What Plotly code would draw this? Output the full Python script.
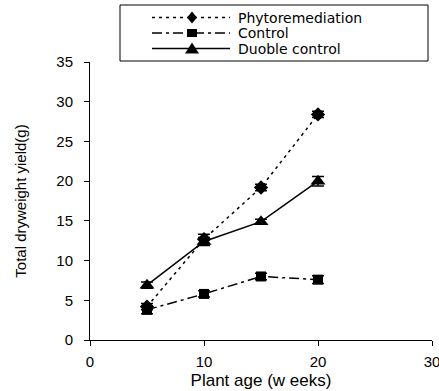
import plotly.graph_objects as go

weeks = [5, 10, 15, 20]
phyto = [4.2, 12.7, 19.2, 28.4]
phyto_err = [0.4, 0.6, 0.4, 0.4]
control = [3.8, 5.8, 8.0, 7.6]
control_err = [0.5, 0.4, 0.4, 0.5]
double = [6.9, 12.4, 14.9, 20.0]
double_err = [0.4, 0.5, 0.3, 0.6]
names = ["Phytoremediation", "Control", "Duoble control"]

# plot area in pixels (for placing the hand-made legend)
W, H = 439, 391
L, R, T, B = 90, 7, 62, 51
PW, PH = W - L - R, H - T - B


def px(x):
    return (x - L) / PW


def py(y):
    return (H - B - y) / PH


styles = [
    dict(dash="3px,4px", symbol="diamond", size=11,
         path="M0,6 L5,0 L0,-6 L-5,0 Z"),
    dict(dash="10px,4px,3px,4px", symbol="square", size=10,
         path="M-5,-4 L5,-4 L5,4 L-5,4 Z"),
    dict(dash="solid", symbol="triangle-up", size=13,
         path="M-7,-5 L7,-5 L0,6 Z"),
]
values = [phyto, control, double]
errors = [phyto_err, control_err, double_err]

fig = go.Figure()
for name, y, e, st in zip(names, values, errors, styles):
    fig.add_trace(go.Scatter(
        x=weeks, y=y, name=name, mode="lines+markers", showlegend=False,
        line=dict(color="black", width=1.5, dash=st["dash"]),
        marker=dict(symbol=st["symbol"], size=st["size"], color="black"),
        error_y=dict(type="data", array=e, visible=True, color="black",
                     thickness=1.5, width=6),
    ))

# hand-made compact legend
shapes = [dict(type="rect", xref="paper", yref="paper",
               x0=px(120), x1=px(428), y0=py(61), y1=py(5),
               line=dict(color="black", width=1), fillcolor="white", layer="above")]
annotations = []
rows = [17.5, 33, 48.5]
for name, st, ry in zip(names, styles, rows):
    shapes.append(dict(type="line", xref="paper", yref="paper",
                       x0=px(152), x1=px(230), y0=py(ry), y1=py(ry),
                       line=dict(color="black", width=1.5, dash=st["dash"]), layer="above"))
    shapes.append(dict(type="path", xref="paper", yref="paper",
                       xsizemode="pixel", ysizemode="pixel",
                       xanchor=px(192), yanchor=py(ry), path=st["path"],
                       fillcolor="black", line=dict(color="black", width=0), layer="above"))
    annotations.append(dict(text=name, xref="paper", yref="paper", x=px(236), y=py(ry),
                            xanchor="left", yanchor="middle", showarrow=False,
                            font=dict(size=14, family="DejaVu Sans, sans-serif", color="black")))

font = "Liberation Sans, Arial, sans-serif"
fig.update_layout(
    width=W, height=H,
    margin=dict(l=L, r=R, t=T, b=B, autoexpand=False),
    paper_bgcolor="white", plot_bgcolor="white",
    font=dict(family=font, size=15, color="black"),
    showlegend=False,
    shapes=shapes, annotations=annotations,
    xaxis=dict(range=[0, 30], tickvals=[0, 10, 20, 30], showline=True, linecolor="black",
               linewidth=1, ticks="outside", ticklen=5, tickcolor="black", showgrid=False,
               zeroline=False, tickfont=dict(size=15), ticklabeloverflow="allow",
               ticklabelstandoff=3, automargin=False,
               title=dict(text="Plant age (w eeks)", font=dict(size=17), standoff=5)),
    yaxis=dict(range=[0, 35], tickvals=[0, 5, 10, 15, 20, 25, 30, 35], showline=True,
               linecolor="black", linewidth=1, ticks="outside", ticklen=5, tickcolor="black",
               showgrid=False, zeroline=False, tickfont=dict(size=15),
               ticklabelstandoff=8, automargin=False,
               title=dict(text="Total dryweight yield(g)", font=dict(size=15), standoff=26)),
)

fig.write_html("out.html")
